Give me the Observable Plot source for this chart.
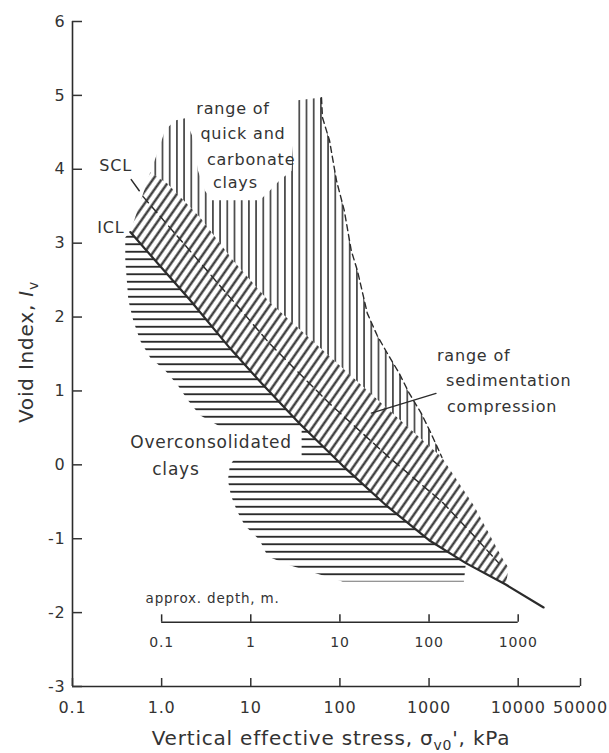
<!DOCTYPE html>
<html><head><meta charset="utf-8">
<script src="https://cdn.jsdelivr.net/npm/d3@7"></script>
<script src="https://cdn.jsdelivr.net/npm/@observablehq/plot@0.6"></script>
<style>
html,body{margin:0;padding:0;background:#fff;}
svg text{letter-spacing:0.8px;}
</style></head><body><div id="chart"></div>
<script>
// ---- axis ticks ----
const xTicks = [0.1, 1, 10, 100, 1000, 10000, 50000];
const xTickLabels = ["0.1", "1.0", "10", "100", "1000", "10000", "50000"];
const yTicks = [-3, -2, -1, 0, 1, 2, 3, 4, 5, 6];
const depthStress = [1, 10, 100, 1000, 10000];
const depthLabels = ["0.1", "1", "10", "100", "1000"];
const depthAxisIv = -2.13;

// ---- intrinsic compression line (ICL) ----
const iclStress = [0.445, 1.01, 2.08, 5.82, 13.3, 35.2, 107, 331, 1000, 2588, 7244, 19280];
const iclIv     = [3.15, 2.66, 2.23, 1.58, 1.10, 0.56, -0.01, -0.55, -1.02, -1.33, -1.62, -1.93];

// ---- sedimentation compression line (SCL) ----
const sclStress = [0.62, 2.69, 16.3, 76.4, 357, 1396, 3184, 6053];
const sclIv     = [3.63, 2.74, 1.64, 0.83, 0.10, -0.50, -0.96, -1.33];

// ---- upper edge of sedimentation-compression band ----
const bandUpperStress = [0.745, 1.15, 2.69, 6.30, 16.3, 76.4, 357, 1396, 3184, 6546, 7834];
const bandUpperIv     = [3.96, 3.81, 3.35, 2.77, 2.20, 1.47, 0.74, 0.10, -0.55, -1.25, -1.40];

// ---- quick and carbonate clays: top and right (dashed) boundary ----
const quickTopStress = [0.745, 0.914, 1.094, 1.416, 1.83, 2.19, 2.56, 3.06, 3.67, 12.6, 16.3, 21.1, 28.7, 31.8, 62.1];
const quickTopIv     = [3.96, 4.25, 4.53, 4.66, 4.69, 4.46, 3.98, 3.71, 3.58, 3.58, 3.71, 3.85, 3.98, 4.93, 4.97];
const quickRightStress = [63.7, 76.4, 91.4, 112, 134, 157, 203, 262, 340, 462, 598, 815, 1053, 1396];
const quickRightIv     = [4.70, 4.39, 3.85, 3.44, 2.90, 2.63, 2.05, 1.75, 1.51, 1.24, 0.97, 0.70, 0.425, 0.10];

// ---- overconsolidated clays: lower / left boundary ----
const ocEdgeStress = [2460, 107, 54.6, 27.3, 15.5, 12.6, 8.57, 6.98, 5.98, 5.54, 5.82, 6.62, 37.2, 37.2, 4.51, 2.69, 1.98, 1.53, 1.09, 0.745, 0.575, 0.481, 0.423, 0.391, 0.391];
const ocEdgeIv     = [-1.58, -1.58, -1.47, -1.36, -1.24, -1.02, -0.82, -0.62, -0.41, -0.21, -0.01, 0.09, 0.11, 0.49, 0.52, 0.67, 0.87, 1.07, 1.28, 1.45, 1.68, 1.95, 2.23, 2.77, 3.08];

// ---- leader lines ----
const sedLeaderStress = [1197, 225];
const sedLeaderIv = [0.966, 0.70];
const sclLeaderStress = [0.456, 0.561];
const sclLeaderIv = [3.86, 3.71];

// ---- annotation labels ----
const quickLabelText = ["range of", "quick and", "carbonate", "clays"];
const quickLabelStress = [2.45, 2.72, 3.22, 3.76];
const quickLabelIv = [4.82, 4.48, 4.13, 3.81];
const sedLabelText = ["range of", "sedimentation", "compression"];
const sedLabelStress = [1227, 1549, 1589];
const sedLabelIv = [1.48, 1.14, 0.79];
const ocLabelText = ["Overconsolidated", "clays"];
const ocLabelStress = [0.445, 0.784];
const ocLabelIv = [0.30, -0.06];
const lineLabelText = ["SCL", "ICL"];
const lineLabelStress = [0.20, 0.19];
const lineLabelIv = [4.04, 3.21];
const depthTitleText = ["approx. depth, m."];
const depthTitleStress = [0.66];
const depthTitleIv = [-1.81];

// ---- helpers ----
const pts = (xs, ys) => xs.map((x, i) => ({x, y: ys[i]}));
const labs = (t, xs, ys) => t.map((s, i) => ({t: s, x: xs[i], y: ys[i]}));
const icl = pts(iclStress, iclIv);
const bandUpper = pts(bandUpperStress, bandUpperIv);
const bandPoly = [...bandUpper, ...icl.filter(d => d.x <= 7244).reverse()];
const quickRight = pts(quickRightStress, quickRightIv);
const quickTop = pts(quickTopStress, quickTopIv);
const quickPoly = [...quickTop, ...quickRight, ...bandUpper.filter(d => d.x < 1396).reverse()];
const quickDashed = [quickTop[quickTop.length - 1], ...quickRight];
const ocPoly = [...icl.filter(d => d.x <= 2588), ...pts(ocEdgeStress, ocEdgeIv)];
const xTickData = xTicks.map((v, i) => ({v, t: xTickLabels[i]}));
const ink = "#2b2b2b";

function defs() {
  const d = d3.create("svg:defs");
  const v = d.append("pattern").attr("id", "vhatch").attr("patternUnits", "userSpaceOnUse")
    .attr("width", 7.2).attr("height", 10);
  v.append("line").attr("x1", 3.6).attr("x2", 3.6).attr("y1", 0).attr("y2", 10)
    .attr("stroke", ink).attr("stroke-width", 1.5);
  const h = d.append("pattern").attr("id", "hhatch").attr("patternUnits", "userSpaceOnUse")
    .attr("width", 10).attr("height", 7.5);
  h.append("line").attr("x1", 0).attr("x2", 10).attr("y1", 3.75).attr("y2", 3.75)
    .attr("stroke", ink).attr("stroke-width", 1.9);
  const g = d.append("pattern").attr("id", "dhatch").attr("patternUnits", "userSpaceOnUse")
    .attr("width", 7).attr("height", 7).attr("patternTransform", "rotate(35)");
  g.append("line").attr("x1", 3.5).attr("x2", 3.5).attr("y1", 0).attr("y2", 7)
    .attr("stroke", ink).attr("stroke-width", 2.2);
  return d.node();
}

function titles() {
  const g = d3.create("svg:g").attr("fill", "#333").attr("font-family", "DejaVu Sans").attr("font-size", 20);
  const xt = g.append("text").attr("x", 331).attr("y", 745).attr("text-anchor", "middle");
  xt.append("tspan").text("Vertical effective stress, \u03c3");
  xt.append("tspan").attr("dy", 5).attr("font-size", 14).text("v0");
  xt.append("tspan").attr("dy", -5).text("', kPa");
  const yt = g.append("text").attr("transform", "translate(33,352) rotate(-90)").attr("text-anchor", "middle");
  yt.append("tspan").text("Void Index, ");
  yt.append("tspan").attr("font-style", "italic").text("I");
  yt.append("tspan").attr("dy", 5).attr("font-size", 14).text("v");
  return g.node();
}

const plot = Plot.plot({
  width: 609,
  height: 753,
  marginLeft: 72,
  marginRight: 29,
  marginTop: 21,
  marginBottom: 67,
  x: {type: "log", domain: [0.1, 50000], label: null},
  y: {domain: [-3, 6], label: null},
  style: {fontFamily: "DejaVu Sans", fontSize: "16px", color: "#333", background: "#fff", overflow: "visible"},
  marks: [
    defs,
    Plot.line(ocPoly, {x: "x", y: "y", fill: "url(#hhatch)", stroke: "none"}),
    Plot.line(quickPoly, {x: "x", y: "y", fill: "url(#vhatch)", stroke: "none"}),
    Plot.line(bandPoly, {x: "x", y: "y", fill: "url(#dhatch)", stroke: "none"}),
    Plot.line(quickDashed, {x: "x", y: "y", stroke: ink, strokeWidth: 1.4, strokeDasharray: "6,4"}),
    Plot.line(pts(sclStress, sclIv), {x: "x", y: "y", stroke: ink, strokeWidth: 1.4, strokeDasharray: "8,5"}),
    Plot.line(icl, {x: "x", y: "y", stroke: ink, strokeWidth: 2.2}),
    Plot.line(pts(sedLeaderStress, sedLeaderIv), {x: "x", y: "y", stroke: ink, strokeWidth: 1.3}),
    Plot.line(pts(sclLeaderStress, sclLeaderIv), {x: "x", y: "y", stroke: ink, strokeWidth: 1.5}),
    // main axes
    Plot.ruleX([0.1], {stroke: ink, strokeWidth: 1.6}),
    Plot.ruleY([-3], {stroke: ink, strokeWidth: 1.6}),
    Plot.axisY({ticks: yTicks, tickSize: -10, tickPadding: 17, fontSize: 16, strokeWidth: 1.5,
      tickFormat: d => (d < 0 ? "-" + (-d) : String(d)), label: null}),
    Plot.axisX({ticks: xTicks, tickSize: -8, tickFormat: () => "", strokeWidth: 1.5, label: null}),
    Plot.text(xTickData, {x: "v", y: yTicks[0], text: "t", dy: 21, fontSize: 16, fill: "#333"}),
    // depth axis
    Plot.ruleY([depthAxisIv], {x1: depthStress[0], x2: depthStress[depthStress.length - 1], stroke: ink, strokeWidth: 1.5}),
    Plot.ruleX(depthStress, {x: d => d, y1: depthAxisIv, y2: depthAxisIv + 0.1, stroke: ink, strokeWidth: 1.5}),
    Plot.text(depthStress, {x: d => d, y: depthAxisIv, text: (d, i) => depthLabels[i], dy: 20, fontSize: 14, fill: "#333"}),
    Plot.text(labs(depthTitleText, depthTitleStress, depthTitleIv), {x: "x", y: "y", text: "t", textAnchor: "start", fontSize: 13.5, fill: "#333"}),
    // annotations
    Plot.text(labs(quickLabelText, quickLabelStress, quickLabelIv), {x: "x", y: "y", text: "t", textAnchor: "start", fontSize: 16, fill: "#333"}),
    Plot.text(labs(sedLabelText, sedLabelStress, sedLabelIv), {x: "x", y: "y", text: "t", textAnchor: "start", fontSize: 16, fill: "#333"}),
    Plot.text(labs(ocLabelText, ocLabelStress, ocLabelIv), {x: "x", y: "y", text: "t", textAnchor: "start", fontSize: 17, fill: "#333"}),
    Plot.text(labs(lineLabelText, lineLabelStress, lineLabelIv), {x: "x", y: "y", text: "t", textAnchor: "start", fontSize: 16, fill: "#333"}),
    titles
  ]
});
document.getElementById("chart").appendChild(plot);
</script></body></html>
